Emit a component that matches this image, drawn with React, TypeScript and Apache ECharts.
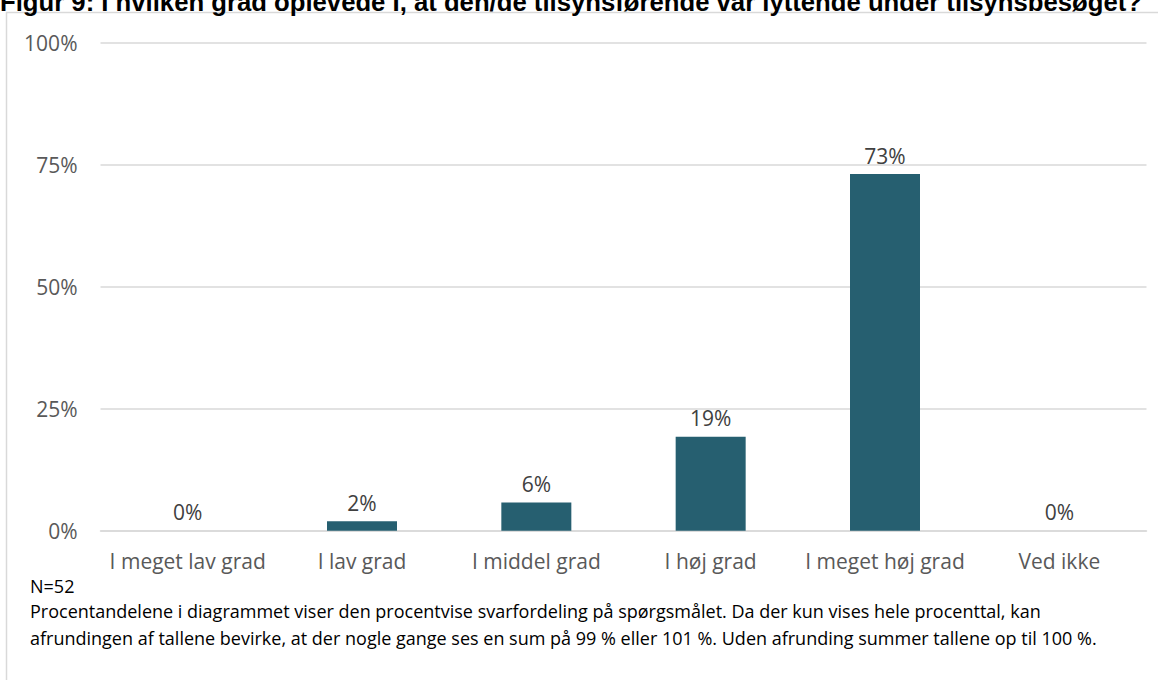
import React, { useEffect, useRef } from "react";
import * as echarts from "echarts";

const TITLE = "Figur 9: I hvilken grad oplevede I, at den/de tilsynsførende var lyttende under tilsynsbesøget?";
const categories = ["I meget lav grad", "I lav grad", "I middel grad", "I høj grad", "I meget høj grad", "Ved ikke"];
const values = [0, 1.92, 5.77, 19.23, 73.08, 0];
const yTicks = [0, 25, 50, 75, 100];
const NOTE_N = "N=52";
const NOTE_1 = "Procentandelene i diagrammet viser den procentvise svarfordeling på spørgsmålet. Da der kun vises hele procenttal, kan";
const NOTE_2 = "afrundingen af tallene bevirke, at der nogle gange ses en sum på 99 % eller 101 %. Uden afrunding summer tallene op til 100 %.";

const FONT = "'Open Sans', sans-serif";

export default function App() {
  const ref = useRef<HTMLDivElement>(null);
  useEffect(() => {
    document.body.style.margin = "0";
    const chart = echarts.init(ref.current!, null, { renderer: "svg" });
    chart.setOption({
      animation: false,
      backgroundColor: "#ffffff",
      grid: { left: 100.5, right: 11.5, top: 42.7, bottom: 149.3, containLabel: false },
      xAxis: {
        type: "category",
        data: categories,
        axisLine: { lineStyle: { color: "#d9d9d9", width: 1.5 } },
        axisTick: { show: false },
        axisLabel: { color: "#595959", fontSize: 21, fontFamily: FONT, margin: 20, interval: 0 },
      },
      yAxis: {
        type: "value",
        min: yTicks[0],
        max: yTicks[yTicks.length - 1],
        interval: 25,
        axisLine: { show: false },
        axisTick: { show: false },
        axisLabel: { color: "#595959", fontSize: 21, fontFamily: FONT, margin: 23, formatter: "{value}%" },
        splitLine: { lineStyle: { color: "#d9d9d9", width: 1.5 } },
      },
      series: [
        {
          type: "bar",
          data: values,
          barWidth: 70,
          itemStyle: { color: "#265f70" },
          label: {
            show: true,
            position: "top",
            distance: 8,
            color: "#404040",
            fontSize: 21,
            fontFamily: FONT,
            formatter: (p: any) => Math.round(p.value) + "%",
          },
        },
      ],
      graphic: [
        {
          type: "rect",
          shape: { x: 6.5, y: 12.5, width: 1300, height: 800 },
          style: { fill: "none", stroke: "#d9d9d9", lineWidth: 1.5 },
          silent: true,
        },
        {
          type: "text",
          x: 0,
          y: 1.5,
          style: { text: TITLE, font: "bold 25.7px 'Liberation Sans', Arial, sans-serif", fill: "#000", verticalAlign: "middle" },
        },
        {
          type: "text",
          x: 30,
          y: 586,
          style: { text: NOTE_N, font: "18px 'Open Sans', sans-serif", fill: "#000", verticalAlign: "middle" },
        },
        {
          type: "text",
          x: 30,
          y: 611,
          style: { text: NOTE_1, font: "18px 'Open Sans', sans-serif", fill: "#000", verticalAlign: "middle" },
        },
        {
          type: "text",
          x: 30,
          y: 638,
          style: { text: NOTE_2, font: "18px 'Open Sans', sans-serif", fill: "#000", verticalAlign: "middle" },
        },
      ],
    });
    return () => chart.dispose();
  }, []);
  return <div ref={ref} style={{ position: "fixed", left: 0, top: 0, width: 1158, height: 680 }} />;
}
